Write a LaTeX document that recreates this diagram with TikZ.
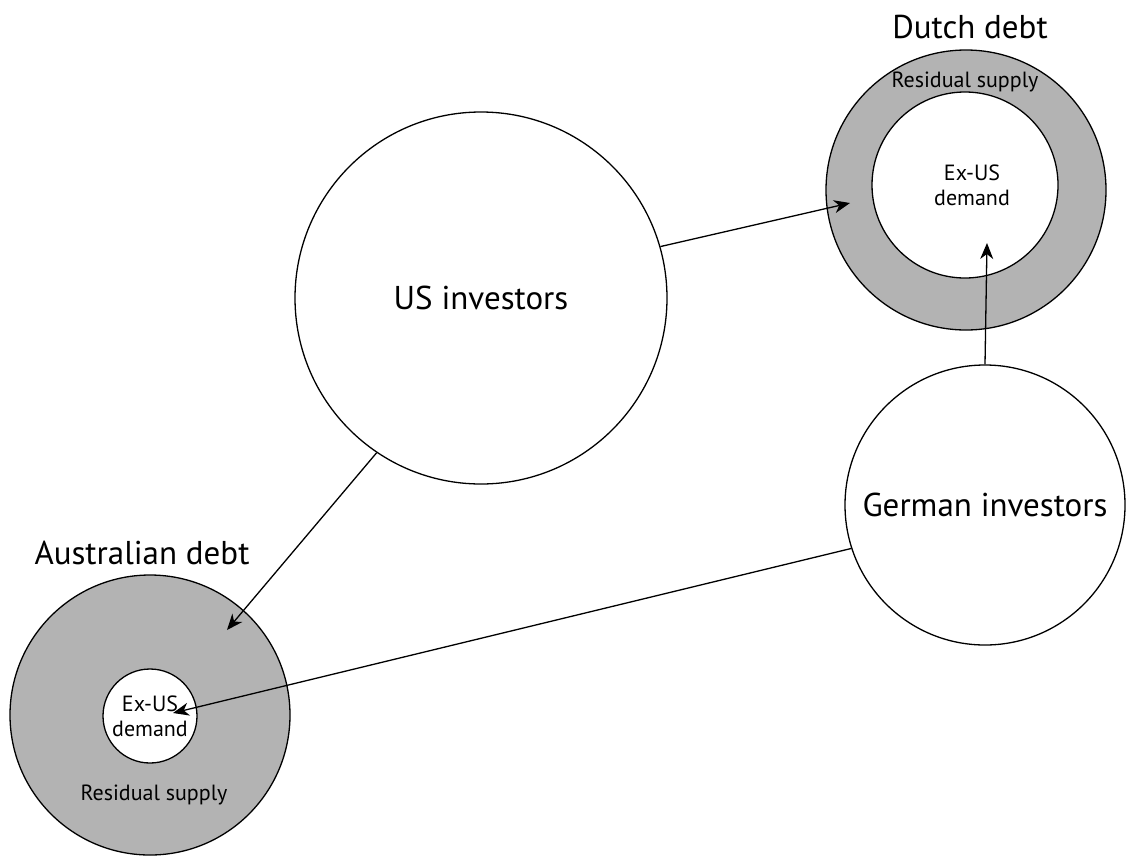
\documentclass[tikz,border=0pt]{standalone}
\usepackage{fontspec}
\setmainfont{PT Sans}
\usetikzlibrary{arrows.meta}
\definecolor{ringgray}{RGB}{179,179,179}
\begin{document}
\begin{tikzpicture}[x=1pt,y=-1pt,
  every node/.style={inner sep=0pt},
  bigcirc/.style={circle,draw,line width=1.3pt,fill=white,font=\fontsize{33}{38}\selectfont},
  ringcirc/.style={circle,draw,line width=1.3pt,fill=ringgray},
  innercirc/.style={circle,draw,line width=1.3pt,fill=white,align=center,font=\fontsize{22}{25}\selectfont},
  title/.style={font=\fontsize{33}{38}\selectfont},
  small/.style={font=\fontsize{22}{25}\selectfont},
  arr/.style={line width=1.3pt,-{Stealth[length=16pt,width=13pt,inset=5pt]}}]
\useasboundingbox (0,0) rectangle (1126,857);
% nodes
\node[bigcirc,minimum size=372pt] (us) at (481,298) {US investors};
\node[bigcirc,minimum size=280pt] (german) at (985,505) {German investors};
\node[ringcirc,minimum size=280pt] (dutch) at (966,190) {};
\node[innercirc,minimum size=186pt] (dutchin) at (965,185) {\hspace*{14pt}Ex-US\\\hspace*{14pt}demand};
\node[ringcirc,minimum size=280pt] (aus) at (150,715) {};
\node[innercirc,minimum size=94pt] (ausin) at (150,716) {Ex-US\\demand};
\node[title] (dutchtitle) at (970,27) {Dutch debt};
\node[title] (austitle) at (142,553) {Australian debt};
\node[small] (dutchres) at (965,82) {Residual supply};
\node[small] (ausres) at (154,795) {Residual supply};
% arrow end points
\coordinate (dutchend) at (850,203);
\coordinate (dutchinend) at (987,243);
\coordinate (ausend) at (227,630);
\coordinate (ausinend) at (173,713);
% connectors
\draw[arr] (us.16) -- (dutchend);
\draw[arr] (us.236) -- (ausend);
\draw[arr] (german.north) -- (dutchinend);
\draw[arr] (german.198) -- (ausinend);
\end{tikzpicture}
\end{document}
